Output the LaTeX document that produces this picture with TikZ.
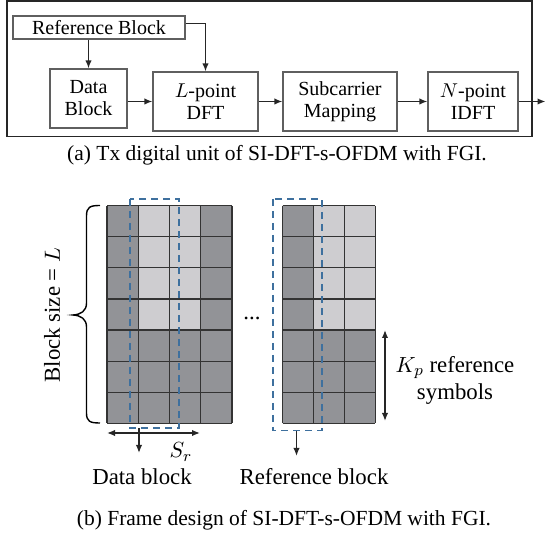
\documentclass[tikz,border=0pt]{standalone}
\usepackage{fontspec}
\setmainfont{Liberation Serif}
\usetikzlibrary{arrows.meta,positioning,calc}
\definecolor{darkcell}{RGB}{146,147,151}
\definecolor{lightcell}{RGB}{206,205,208}
\definecolor{dashblue}{RGB}{62,112,158}
\definecolor{boxgray}{RGB}{95,95,95}
\tikzset{
  blk/.style={draw=boxgray,line width=0.6pt,align=center,inner sep=0pt,minimum height=29.5pt,font=\fontsize{10}{11}\selectfont},
  conn/.style={-{Latex[length=4pt,width=3.2pt]},line width=0.7pt,draw=black!85},
  dblarrow/.style={{Latex[length=4pt,width=3.2pt]}-{Latex[length=4pt,width=3.2pt]},line width=0.7pt,draw=black!85},
  gridline/.style={draw=black!80,line width=0.6pt},
  dashbox/.style={draw=dashblue,line width=0.8pt,dash pattern=on 3.5pt off 2.5pt},
  lbl/.style={font=\fontsize{11.4}{13.5}\selectfont,inner sep=0pt},
  captxt/.style={font=\fontsize{10.75}{13}\selectfont,inner sep=0pt}
}
\begin{document}
\begin{tikzpicture}[x=0.5pt,y=-0.5pt]
\useasboundingbox (0,0) rectangle (546,533);
% outer frame of the Tx unit
\draw[line width=0.75pt,draw=black!85] (7,1) rectangle (532,136.5);
% blocks
\node[blk,minimum width=86pt,minimum height=11.5pt] (refblk) at (99,27.5) {Reference Block};
\node[blk,minimum width=38.5pt] (datablk) at (88.5,98.5) {Data\\Block};
\node[blk,minimum width=52.5pt] (dft) at (205.5,101.5) {$L$-point\\DFT};
\node[blk,minimum width=57pt] (submap) at (340,101.5) {Subcarrier\\Mapping};
\node[blk,minimum width=45pt] (idft) at (473,101.5) {$N$-point\\IDFT};
\coordinate (txout) at (545.5,101.5);
% connectors
\draw[conn] (datablk.north |- refblk.south) -- (datablk.north);
\draw[conn] ([yshift=2pt]refblk.east) -| (dft.north);
\draw[conn] (datablk.east |- dft.west) -- (dft.west);
\draw[conn] (dft) -- (submap);
\draw[conn] (submap) -- (idft);
\draw[conn] (idft) -- (txout);
\node[captxt] (capa) at (277,155) {(a) Tx digital unit of SI-DFT-s-OFDM with FGI.};

% data grid
\fill[darkcell] (107,205.7) rectangle (232,423.4);
\fill[lightcell] (138.25,205.7) rectangle (200.75,330.1);
\foreach \i in {0,...,4}
  \draw[gridline] ({107+31.25*\i},205.7) -- ({107+31.25*\i},423.4);
\foreach \j in {0,...,7}
  \draw[gridline] (107,{205.7+31.1*\j}) -- (232,{205.7+31.1*\j});
% reference grid
\fill[darkcell] (282.7,205.7) rectangle (375.4,423.4);
\fill[lightcell] (313.6,205.7) rectangle (375.4,330.1);
\foreach \i in {0,...,3}
  \draw[gridline] ({282.7+30.9*\i},205.7) -- ({282.7+30.9*\i},423.4);
\foreach \j in {0,...,7}
  \draw[gridline] (282.7,{205.7+31.1*\j}) -- (375.4,{205.7+31.1*\j});
% dashed blocks
\draw[dashbox] (130,199) rectangle (179,428);
\draw[dashbox] (272.7,199) rectangle (321.7,430.5);

% brace and dots
\draw[line width=0.7pt] (100,205.5) .. controls (90,205.5) and (86.5,207) .. (86.5,216)
  -- (86.5,303) .. controls (86.5,311) and (81,314.5) .. (73,315)
  .. controls (81,315.5) and (86.5,319) .. (86.5,327)
  -- (86.5,413) .. controls (86.5,421.5) and (90,423) .. (100,423);
\node[lbl,rotate=90] (bsize) at (52,315) {Block size = $L$};
\node[lbl,anchor=base] (dots) at (252,320) {...};

% S_r span
\coordinate (srl) at (107,433);
\coordinate (srr) at (200,433);
\draw[dblarrow] (srl) -- (srr);
\node[lbl] (srlbl) at (181,452) {$S_r$};

% block labels
\node[lbl] (dblbl) at (142,477) {Data block};
\node[lbl] (rblbl) at (314,477) {Reference block};
\coordinate (dbtop) at (139,428);
\coordinate (dbend) at (139,453);
\coordinate (rbtop) at (296.5,431);
\coordinate (rbend) at (296.5,456);
\draw[conn] (dbtop) -- (dbend);
\draw[conn] (rbtop) -- (rbend);

% K_p span
\coordinate (kptop) at (385,330);
\coordinate (kpbot) at (385,421);
\draw[dblarrow] (kptop) -- (kpbot);
\node[lbl,align=center] (kplbl) at (455,380.5) {$K_p$ reference\\symbols};

\node[captxt] (capb) at (284,520) {(b) Frame design of SI-DFT-s-OFDM with FGI.};
\end{tikzpicture}
\end{document}
